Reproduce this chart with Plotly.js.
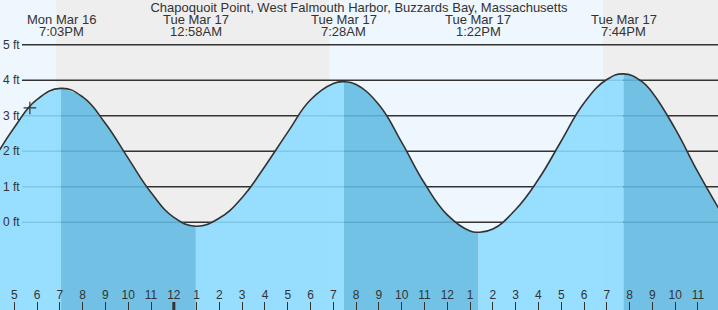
<!DOCTYPE html>
<html><head><meta charset="utf-8">
<script src="https://cdn.plot.ly/plotly-3.0.1.min.js"></script>
<style>html,body{margin:0;padding:0;background:#EEF6FE;}#chart{width:718px;height:310px;}</style>
</head><body><div id="chart"></div>
<script>
const chartTitle = 'Chapoquoit Point, West Falmouth Harbor, Buzzards Bay, Massachusetts';

// tide curve (local time, ft)
const tideTimes = [
  '2026-03-16 16:00','2026-03-16 17:00','2026-03-16 18:00','2026-03-16 19:03','2026-03-16 20:00',
  '2026-03-16 21:00','2026-03-16 22:00','2026-03-16 23:00','2026-03-17 00:00','2026-03-17 00:58',
  '2026-03-17 02:00','2026-03-17 03:00','2026-03-17 04:00','2026-03-17 05:00','2026-03-17 06:00',
  '2026-03-17 07:00','2026-03-17 07:28','2026-03-17 08:00','2026-03-17 09:00','2026-03-17 10:00',
  '2026-03-17 11:00','2026-03-17 12:00','2026-03-17 13:00','2026-03-17 13:22','2026-03-17 14:00',
  '2026-03-17 15:00','2026-03-17 16:00','2026-03-17 17:00','2026-03-17 18:00','2026-03-17 19:00',
  '2026-03-17 19:44','2026-03-17 20:30','2026-03-17 21:00','2026-03-17 22:00','2026-03-17 23:00',
  '2026-03-18 00:00'
];
const tideHeights = [
  1.65, 2.67, 3.46, 3.77, 3.53,
  2.78, 1.80, 0.84, 0.14, -0.11,
  0.12, 0.70, 1.58, 2.54, 3.45,
  3.91, 3.96, 3.88, 3.31, 2.25,
  1.10, 0.21, -0.245, -0.28, -0.19,
  0.36, 1.21, 2.29, 3.36, 4.02,
  4.18, 3.98, 3.65, 2.63, 1.41,
  0.29
];

// high / low tide labels
const extremeTimes = ['2026-03-16 19:03','2026-03-17 00:58','2026-03-17 07:28','2026-03-17 13:22','2026-03-17 19:44'];
const extremeDays  = ['Mon Mar 16','Tue Mar 17','Tue Mar 17','Tue Mar 17','Tue Mar 17'];
const extremeClock = ['7:03PM','12:58AM','7:28AM','1:22PM','7:44PM'];

// night shading (sunset -> sunrise)
const nightStarts = ['2026-03-16 18:50','2026-03-17 18:50'];
const nightEnds   = ['2026-03-17 06:49','2026-03-18 06:49'];
const dayBoundary = '2026-03-17 00:00';

// current position marker
const nowTime = '2026-03-16 17:41';
const nowHeight = 3.22;

// axes
const hourTicks = [
  '2026-03-16 17:00','2026-03-16 18:00','2026-03-16 19:00','2026-03-16 20:00','2026-03-16 21:00',
  '2026-03-16 22:00','2026-03-16 23:00','2026-03-17 00:00','2026-03-17 01:00','2026-03-17 02:00',
  '2026-03-17 03:00','2026-03-17 04:00','2026-03-17 05:00','2026-03-17 06:00','2026-03-17 07:00',
  '2026-03-17 08:00','2026-03-17 09:00','2026-03-17 10:00','2026-03-17 11:00','2026-03-17 12:00',
  '2026-03-17 13:00','2026-03-17 14:00','2026-03-17 15:00','2026-03-17 16:00','2026-03-17 17:00',
  '2026-03-17 18:00','2026-03-17 19:00','2026-03-17 20:00','2026-03-17 21:00','2026-03-17 22:00',
  '2026-03-17 23:00'
];
const hourLabels = ['5','6','7','8','9','10','11','12','1','2','3','4','5','6','7','8','9','10','11','12',
  '1','2','3','4','5','6','7','8','9','10','11'];
const heightTicks = [0,1,2,3,4,5];
const heightLabels = ['0 ft','1 ft','2 ft','3 ft','4 ft','5 ft'];

const viewStart = '2026-03-16 16:22:21';
const viewEnd = '2026-03-17 23:52:41';
const yMin = -2.47, yMax = 6.26;

const FONT = 'Liberation Sans, Arial, sans-serif';
const TXT = '#333333';
const DAY = '#EEF6FE', NIGHT = '#EEEEEE';
const LIGHT_WATER = 'rgba(139,219,255,0.88)';
const DARK_WATER = 'rgba(97,187,227,0.88)';
const SMOOTH = 1.3;

const traces = [];
const cuts = [tideTimes[0]].concat(extremeTimes, [tideTimes[tideTimes.length - 1]]);
for (let s = 0; s < cuts.length - 1; s++) {
  const xs = [], ys = [];
  tideTimes.forEach((t, i) => {
    if (t >= cuts[s] && t <= cuts[s + 1]) { xs.push(t); ys.push(tideHeights[i]); }
  });
  const falling = ys[ys.length - 1] < ys[0];
  traces.push({x: [xs[0], xs[xs.length - 1]], y: [yMin - 1, yMin - 1], mode: 'lines',
    line: {width: 0}, hoverinfo: 'skip', showlegend: false});
  traces.push({x: xs, y: ys, mode: 'lines', line: {width: 0, shape: 'spline', smoothing: SMOOTH},
    fill: 'tonexty', fillcolor: falling ? DARK_WATER : LIGHT_WATER, hoverinfo: 'skip', showlegend: false});
}
traces.push({x: tideTimes, y: tideHeights, mode: 'lines',
  line: {color: '#333333', width: 1.6, shape: 'spline', smoothing: SMOOTH}, hoverinfo: 'skip', showlegend: false});
traces.push({x: [nowTime], y: [nowHeight], mode: 'markers',
  marker: {symbol: 'cross-thin', size: 9, line: {width: 1.2, color: '#333333'}},
  hoverinfo: 'skip', showlegend: false});

const shapes = [];
nightStarts.forEach((s, i) => {
  shapes.push({type: 'rect', xref: 'x', yref: 'paper', x0: s, x1: nightEnds[i], y0: 0, y1: 1,
    fillcolor: NIGHT, line: {width: 0}, layer: 'below'});
});
heightTicks.forEach(v => {
  shapes.push({type: 'line', xref: 'paper', yref: 'y', x0: 22 / 718, x1: 1, y0: v, y1: v,
    line: {color: '#333333', width: 1.4}, layer: 'below'});
});
shapes.push({type: 'line', xref: 'x', yref: 'paper', x0: dayBoundary, x1: dayBoundary,
  y0: 0, y1: 8 / 310, line: {color: '#333333', width: 3}, layer: 'above'});

const annotations = [];
heightTicks.forEach((v, i) => {
  annotations.push({xref: 'paper', yref: 'y', x: 1 / 718, y: v, xanchor: 'left', yanchor: 'middle',
    text: heightLabels[i], showarrow: false, font: {family: FONT, size: 12, color: TXT}});
});
extremeTimes.forEach((t, i) => {
  annotations.push({xref: 'x', yref: 'paper', x: t, y: 1 - 19.5 / 310, xanchor: 'center', yanchor: 'middle',
    text: extremeDays[i], showarrow: false, borderpad: 0, font: {family: FONT, size: 13, color: TXT}});
  annotations.push({xref: 'x', yref: 'paper', x: t, y: 1 - 31.5 / 310, xanchor: 'center', yanchor: 'middle',
    text: extremeClock[i], showarrow: false, borderpad: 0, font: {family: FONT, size: 13, color: TXT}});
});

const layout = {
  width: 718, height: 310,
  margin: {l: 0, r: 0, t: 0, b: 0, pad: 0},
  paper_bgcolor: DAY, plot_bgcolor: DAY,
  title: {text: chartTitle, font: {family: FONT, size: 13, color: TXT},
    x: 0.5, xanchor: 'center', xref: 'paper', y: 1 - 7.5 / 310, yref: 'container', yanchor: 'middle', pad: {t: 0, b: 0}},
  xaxis: {type: 'date', range: [viewStart, viewEnd], tickmode: 'array', tickvals: hourTicks, ticktext: hourLabels,
    ticks: 'inside', ticklen: 8, tickwidth: 1, tickcolor: '#333333', ticklabelposition: 'inside',
    tickfont: {family: FONT, size: 12, color: TXT}, showgrid: false, zeroline: false, showline: false, fixedrange: true},
  yaxis: {range: [yMin, yMax], showgrid: false, zeroline: false, showticklabels: false, ticks: '', showline: false, fixedrange: true},
  shapes: shapes,
  annotations: annotations,
  showlegend: false
};

Plotly.newPlot('chart', traces, layout, {displayModeBar: false, staticPlot: true});
</script></body></html>
